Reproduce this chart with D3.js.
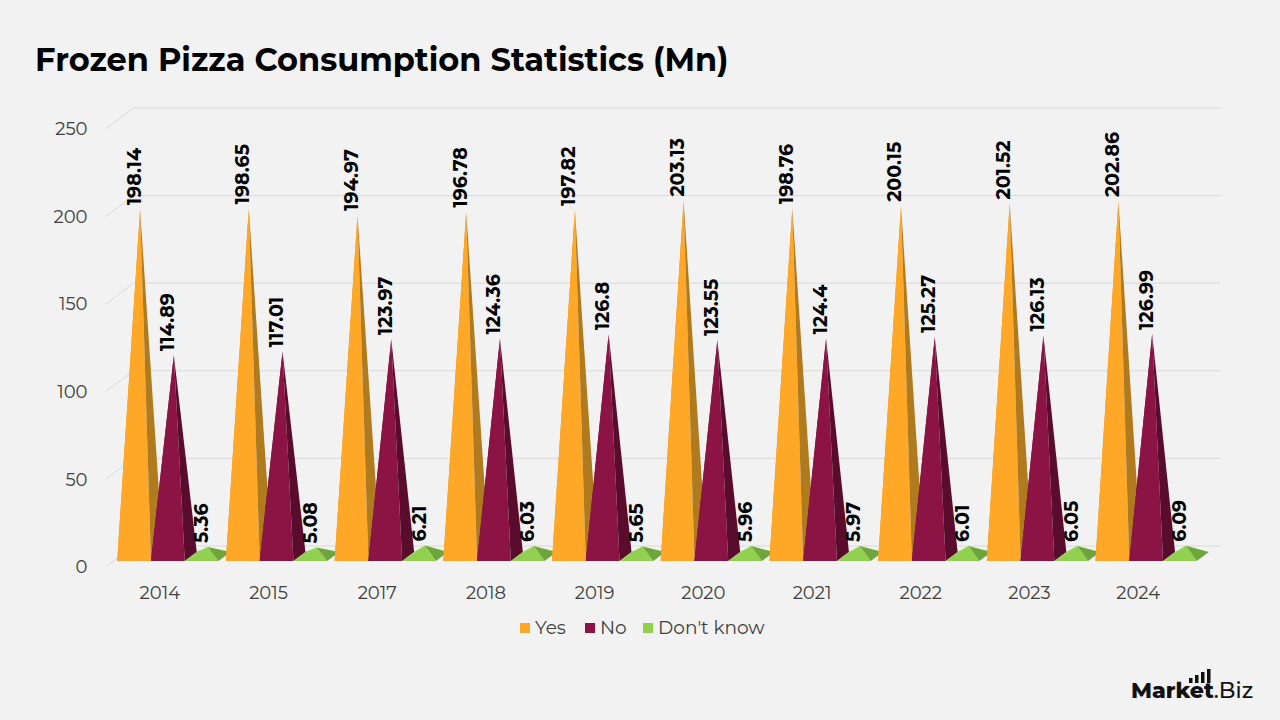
<!DOCTYPE html>
<html>
<head>
<meta charset="utf-8">
<script src="https://cdn.jsdelivr.net/npm/d3@7"></script>
<style>
  body { margin: 0; background: #f2f2f2; }
  svg { display: block; font-family: Montserrat, Inter, "Noto Sans", sans-serif; }
</style>
</head>
<body>
<svg id="chart" width="1280" height="720"></svg>
<script>
var years = ["2014", "2015", "2017", "2018", "2019", "2020", "2021", "2022", "2023", "2024"];
var seriesNames = ["Yes", "No", "Don't know"];
var yesValues = [198.14, 198.65, 194.97, 196.78, 197.82, 203.13, 198.76, 200.15, 201.52, 202.86];
var noValues = [114.89, 117.01, 123.97, 124.36, 126.8, 123.55, 124.4, 125.27, 126.13, 126.99];
var dontKnowValues = [5.36, 5.08, 6.21, 6.03, 5.65, 5.96, 5.97, 6.01, 6.05, 6.09];
var yTicks = [0, 50, 100, 150, 200, 250];

var w = 1280, h = 720;
var depthX = 28, depthY = 21;      // wall depth
var pyrX = 12, pyrY = 9;          // pyramid depth

var colors = {
    "Yes": { front: "#ffa726", right: "#b07a1e", left: "#e3921f" },
    "No": { front: "#8c1444", right: "#5a0c2c", left: "#6e1038" },
    "Don't know": { front: "#92d050", right: "#6ea63c", left: "#80bd47" }
};

var seriesValues = [yesValues, noValues, dontKnowValues];

var svg = d3.select("#chart");

// title
svg.append("text")
    .attr("x", 35)
    .attr("y", 71)
    .attr("font-size", 32)
    .attr("font-weight", 700)
    .attr("fill", "#000")
    .text("Frozen Pizza Consumption Statistics (Mn)");

// scales (front plane)
var xScale = d3.scaleBand()
    .domain(years)
    .range([105.5, 1192.5]);

var x1 = d3.scaleBand()
    .domain(seriesNames)
    .range([0, xScale.bandwidth()])
    .paddingOuter(0.11);

var yScale = d3.scaleLinear()
    .domain([0, 250])
    .range([567, 129]);

// gridlines with the 3D side wall
var grid = svg.append("g");
yTicks.forEach(function(t) {
    var y0 = yScale(t);
    grid.append("path")
        .attr("d", "M" + xScale.range()[0] + "," + y0 +
            "L" + (xScale.range()[0] + depthX) + "," + (y0 - depthY) +
            "L" + (xScale.range()[1] + depthX) + "," + (y0 - depthY))
        .attr("fill", "none")
        .attr("stroke", "#d9d9d9")
        .attr("stroke-width", 1);
});

// y axis labels
var yAxis = d3.axisLeft(yScale).tickValues(yTicks).tickSize(0).tickPadding(18);
var yg = svg.append("g")
    .attr("transform", "translate(" + xScale.range()[0] + ",0)")
    .call(yAxis);
yg.select(".domain").remove();
yg.selectAll("text")
    .attr("font-size", 18)
    .attr("fill", "#404040")
    .attr("font-family", "Montserrat, Inter, sans-serif");

// x axis labels
var xAxis = d3.axisBottom(xScale).tickSize(0).tickPadding(9);
var xg = svg.append("g")
    .attr("transform", "translate(0," + (yScale(0) + 10) + ")")
    .call(xAxis);
xg.select(".domain").remove();
xg.selectAll("text")
    .attr("font-size", 18)
    .attr("fill", "#404040")
    .attr("font-family", "Montserrat, Inter, sans-serif");

// pyramids
var marks = svg.append("g");
var labels = svg.append("g");
var a = x1.bandwidth() / 2;

years.forEach(function(year, i) {
    seriesNames.forEach(function(name, s) {
        var v = seriesValues[s][i];
        var cx = xScale(year) + x1(name) + a + depthX / 2;
        var cy = yScale(0) - depthY / 2;
        var apex = [cx, yScale(v) - depthY / 2];
        var fl = [cx - a - pyrX / 2, cy + pyrY / 2];
        var fr = [cx + a - pyrX / 2, cy + pyrY / 2];
        var bl = [cx - a + pyrX / 2, cy - pyrY / 2];
        var br = [cx + a + pyrX / 2, cy - pyrY / 2];
        var c = colors[name];

        marks.append("path")
            .attr("d", d3.line()([fl, bl, apex]) + "Z")
            .attr("fill", c.left);
        marks.append("path")
            .attr("d", d3.line()([fl, fr, apex]) + "Z")
            .attr("fill", c.front);
        marks.append("path")
            .attr("d", d3.line()([fr, br, apex]) + "Z")
            .attr("fill", c.right);

        var lx = cx - pyrX / 2, ly = apex[1] - 4;
        labels.append("text")
            .attr("transform", "translate(" + lx + "," + ly + ") rotate(-90)")
            .attr("text-anchor", "start")
            .attr("dominant-baseline", "central")
            .attr("font-size", 19)
            .attr("font-weight", 700)
            .attr("fill", "#000")
            .text(v);
    });
});

// legend
var legendX = [520, 585, 643];
var legend = svg.append("g");
seriesNames.forEach(function(name, s) {
    legend.append("rect")
        .attr("x", legendX[s])
        .attr("y", 623)
        .attr("width", 10)
        .attr("height", 10)
        .attr("fill", colors[name].front);
    legend.append("text")
        .attr("x", legendX[s] + 15)
        .attr("y", 634)
        .attr("font-size", 18.5)
        .attr("fill", "#404040")
        .text(name);
});

// logo
var logo = svg.append("g");
logo.append("text")
    .attr("x", 1131)
    .attr("y", 698)
    .attr("font-size", 22)
    .attr("font-weight", 800)
    .attr("fill", "#111")
    .text("Market")
    .append("tspan")
    .attr("font-weight", 500)
    .text(".Biz");
[[1189, 678], [1195, 675], [1201, 672], [1207, 669]].forEach(function(b) {
    logo.append("rect")
        .attr("x", b[0])
        .attr("y", b[1])
        .attr("width", 3.5)
        .attr("height", 683 - b[1])
        .attr("fill", "#111");
});
</script>
</body>
</html>
